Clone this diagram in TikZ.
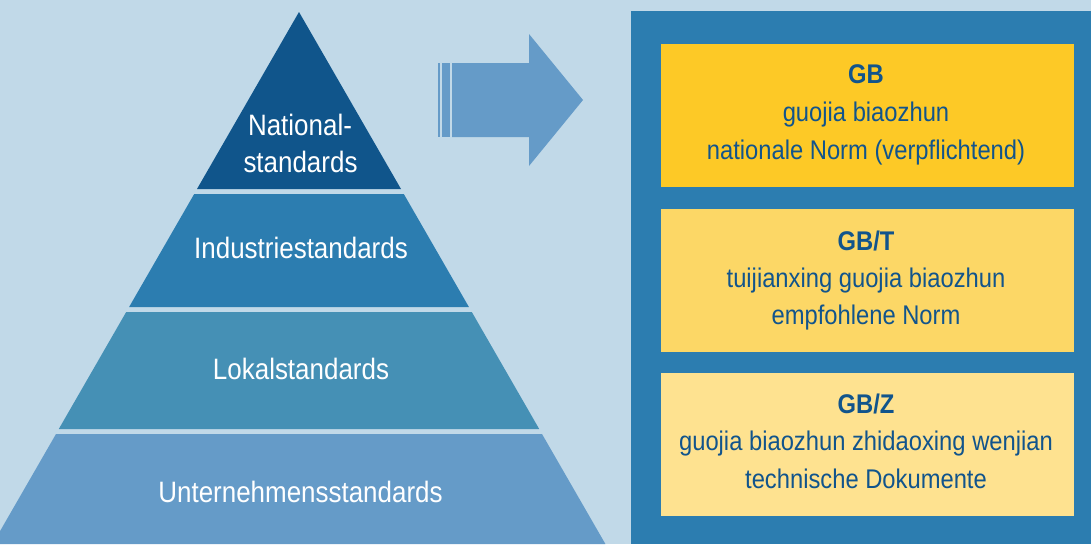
\documentclass[tikz,border=0pt]{standalone}
\usepackage{fontspec}
\setmainfont[FakeStretch=0.88]{Liberation Sans}
\definecolor{bgc}{RGB}{193,217,232}
\definecolor{tierA}{RGB}{16,85,139}
\definecolor{tierB}{RGB}{44,125,176}
\definecolor{tierC}{RGB}{69,144,181}
\definecolor{tierD}{RGB}{101,155,200}
\definecolor{panelc}{RGB}{44,125,176}
\definecolor{boxA}{RGB}{253,201,38}
\definecolor{boxB}{RGB}{252,215,102}
\definecolor{boxC}{RGB}{254,226,144}
\definecolor{txtc}{RGB}{17,84,140}
\tikzset{
  tiertext/.style={anchor=base, text=white, inner sep=0pt, font=\fontsize{29.5}{37}\selectfont},
  boxhead/.style={anchor=base, text=txtc, inner sep=0pt, font=\fontsize{27}{37.5}\selectfont\bfseries},
  boxline/.style={anchor=base, text=txtc, inner sep=0pt, font=\fontsize{27}{37.5}\selectfont},
  stdbox/.style={draw=none, inner sep=0pt, minimum width=413pt, minimum height=143pt}
}
\begin{document}
\begin{tikzpicture}[x=1pt,y=-1pt]
\useasboundingbox (0,0) rectangle (1091,544);
\fill[bgc] (0,0) rectangle (1091,544);
% pyramid tiers
\fill[tierA] (299,12) -- (401,189) -- (197,189) -- cycle;
\fill[tierB] (194.2,194) -- (403.8,194) -- (468.9,307) -- (129.1,307) -- cycle;
\fill[tierC] (126.2,312) -- (471.8,312) -- (539.2,429) -- (58.8,429) -- cycle;
\fill[tierD] (56,434) -- (542,434) -- (605.4,544) -- (-7.4,544) -- cycle;
% pyramid labels
\node[tiertext] (nat1) at (300,135) {National-};
\node[tiertext] (nat2) at (300.5,172) {standards};
\node[tiertext] (ind) at (301,258.5) {Industriestandards};
\node[tiertext] (lok) at (301,379) {Lokalstandards};
\node[tiertext] (unt) at (300.5,502) {Unternehmensstandards};
% arrow
\fill[tierD] (438,63) rectangle (440,137);
\fill[tierD] (442,63) rectangle (450,137);
\fill[tierD] (452,63) -- (529,63) -- (529,34) -- (583,100) -- (529,166) -- (529,137) -- (452,137) -- cycle;
% right panel
\fill[panelc] (631,11) rectangle (1091,544);
\node[stdbox, fill=boxA] (b1) at (867.5,115.5) {};
\node[stdbox, fill=boxB] (b2) at (867.5,280) {};
\node[stdbox, fill=boxC] (b3) at (867.5,444) {};
\node[boxhead] (b1h) at (866,83) {GB};
\node[boxline] (b1a) at (866,121.5) {guojia biaozhun};
\node[boxline] (b1b) at (866,159.3) {nationale Norm (verpflichtend)};
\node[boxhead] (b2h) at (866,250) {GB/T};
\node[boxline] (b2a) at (866,287) {tuijianxing guojia biaozhun};
\node[boxline] (b2b) at (866,324) {empfohlene Norm};
\node[boxhead] (b3h) at (866,413) {GB/Z};
\node[boxline] (b3a) at (866,450) {guojia biaozhun zhidaoxing wenjian};
\node[boxline] (b3b) at (866,488.5) {technische Dokumente};
\end{tikzpicture}
\end{document}
